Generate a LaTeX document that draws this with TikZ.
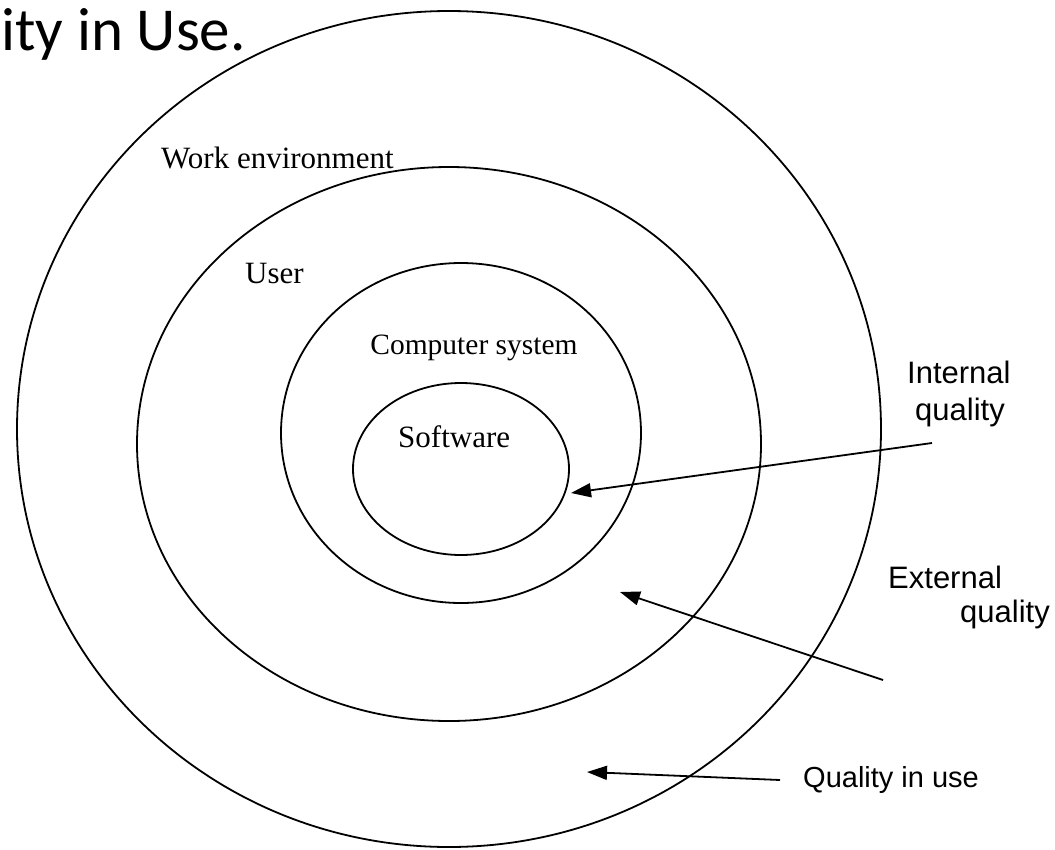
\documentclass[tikz,border=0pt]{standalone}
\usepackage{fontspec}
\setmainfont{Liberation Serif}
\newfontfamily\helv{Liberation Sans}
\newfontfamily\calib{Carlito}
\usepackage{xcolor}
\usepackage{tikz}
\usetikzlibrary{arrows.meta}
\definecolor{ink}{HTML}{000000}
\tikzset{
  ring/.style={draw=ink, line width=1.8pt},
  ptr/.style={draw=ink, line width=1.8pt, -{Triangle[length=20pt,width=14pt]}},
  lab/.style={text=ink, inner sep=0pt, anchor=base west, font=\fontsize{31}{36}\selectfont},
  labs/.style={text=ink, inner sep=0pt, anchor=base west, font=\helv\fontsize{31}{36}\selectfont},
  ttl/.style={text=ink, inner sep=0pt, anchor=base east, font=\calib\fontsize{61}{70}\selectfont},
}
\begin{document}
\begin{tikzpicture}[x=1pt,y=-1pt]
  \useasboundingbox (0,0) rectangle (1055,849);

  \node[ttl] (title) at (246,50) {ity in Use.};

  \draw[ring] (449,429) ellipse [x radius=432, y radius=418];
  \draw[ring] (449,444) ellipse [x radius=312, y radius=277];
  \draw[ring] (461,433) ellipse [x radius=180, y radius=170];
  \draw[ring] (461,469) ellipse [x radius=108, y radius=86];

  \node[lab] (work) at (161,168) {Work environment};
  \node[lab] (user) at (245,283) {User};
  \node[lab, anchor=base, font=\fontsize{29.5}{34}\selectfont] (comp) at (474,354) {Computer system};
  \node[lab] (soft) at (398,447) {Software};

  \node[labs] (int1) at (907,383) {Internal};
  \node[labs] (int2) at (915,420) {quality};
  \node[labs] (ext1) at (888,588) {External};
  \node[labs] (ext2) at (960,622) {quality};
  \node[labs, font=\helv\fontsize{29}{34}\selectfont] (qiu) at (803,787) {Quality in use};

  \coordinate (intS) at (932,443);
  \coordinate (intT) at (571,493);
  \coordinate (extS) at (883,680);
  \coordinate (extT) at (620,592);
  \coordinate (qiuS) at (780,780);
  \coordinate (qiuT) at (587,772);

  \draw[ptr] (intS) -- (intT);
  \draw[ptr] (extS) -- (extT);
  \draw[ptr] (qiuS) -- (qiuT);
\end{tikzpicture}
\end{document}
